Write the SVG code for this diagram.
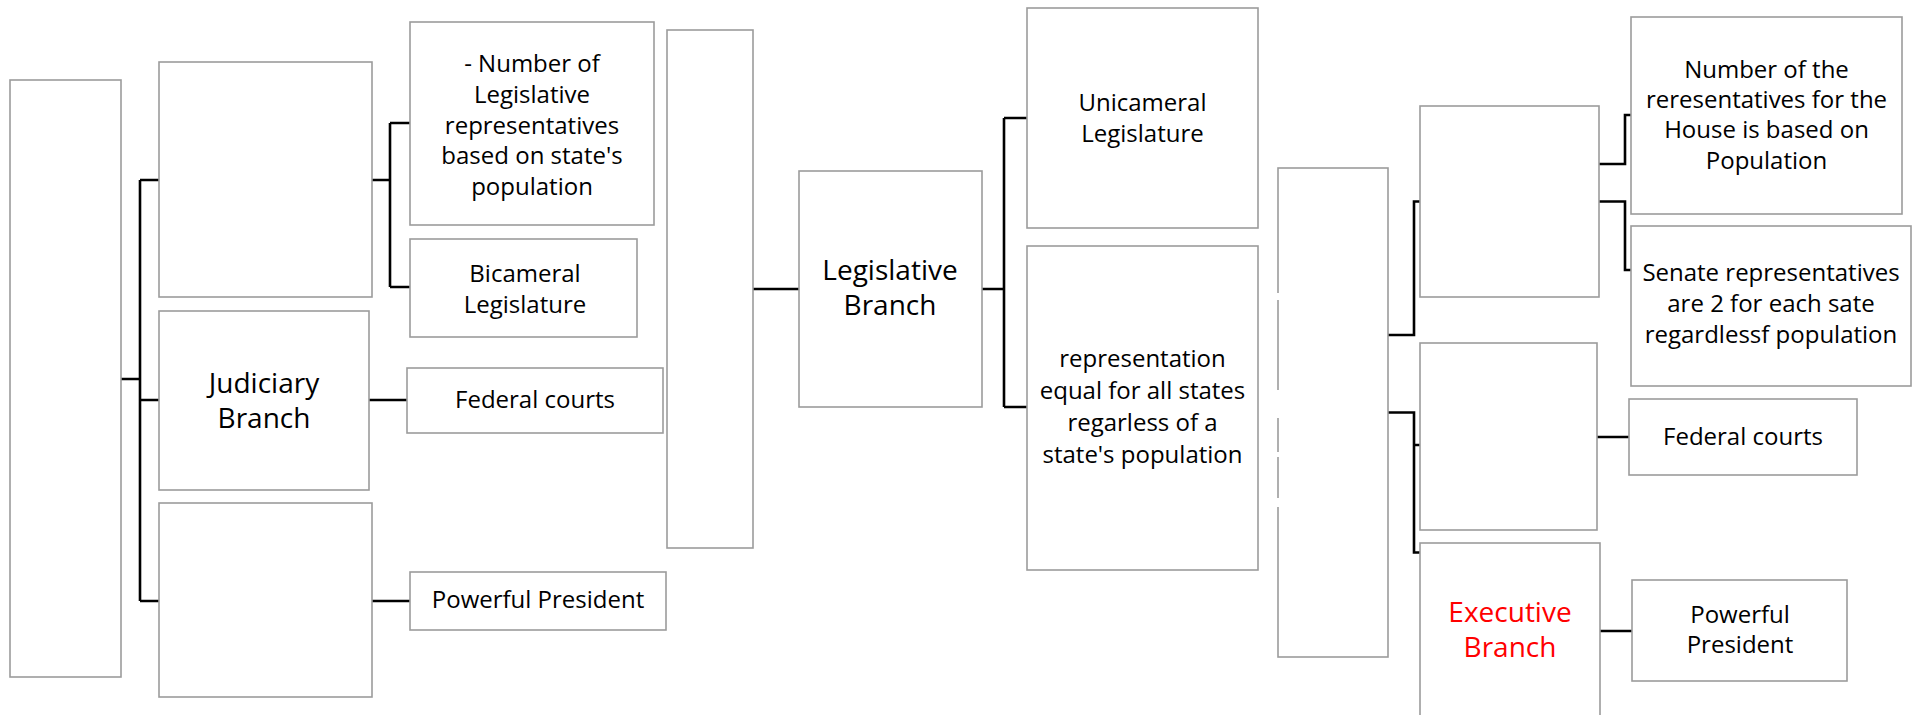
<svg xmlns="http://www.w3.org/2000/svg" width="1919" height="715" viewBox="0 0 1919 715">
<style>
.box{fill:#ffffff;stroke:#9c9c9c;stroke-width:1.6}
.t{font-family:"Open Sans","Noto Sans","Liberation Sans",sans-serif;font-size:24px;fill:#000;text-anchor:middle}
.b{font-size:28px}
.red{fill:#ff0000}
.c{fill:none;stroke:#000;stroke-width:2.6;stroke-linejoin:miter;stroke-linecap:butt}
.gap{fill:#ffffff;stroke:none}
</style>
<rect x="0" y="0" width="1919" height="715" fill="#ffffff"/>
<g id="connectors">
<path class="c" d="M121,379 H140 M140,180 V601 M140,180 H159 M140,400 H159 M140,601 H159"/>
<path class="c" d="M372,180 H390 M390,123 V287 M390,123 H410 M390,287 H410"/>
<path class="c" d="M369,400 H407 M372,601 H410"/>
<path class="c" d="M753,289 H799 M982,289 H1004 M1004,118 V407 M1004,118 H1027 M1004,407 H1027"/>
<path class="c" d="M1388,335 H1414 V201.5 H1420"/>
<path class="c" d="M1388,412.5 H1414 V552.5 H1420 M1414,445 H1420"/>
<path class="c" d="M1599,164 H1625 V115 H1631"/>
<path class="c" d="M1599,201.5 H1625 V270 H1631"/>
<path class="c" d="M1597,437 H1629 M1600,631 H1632"/>
</g>
<g id="root-left"><rect class="box" x="10" y="80" width="111" height="597"/></g>
<g id="empty-top-left"><rect class="box" x="159" y="62" width="213" height="235"/></g>
<g id="judiciary-left"><rect class="box" x="159" y="311" width="210" height="179"/>
<text class="t b" x="264" y="393">Judiciary</text><text class="t b" x="264" y="428">Branch</text></g>
<g id="empty-bottom-left"><rect class="box" x="159" y="503" width="213" height="194"/></g>
<g id="number-legislative"><rect class="box" x="410" y="22" width="244" height="203"/>
<text class="t" x="532" y="72">- Number of</text>
<text class="t" x="532" y="103">Legislative</text>
<text class="t" x="532" y="133.5">representatives</text>
<text class="t" x="532" y="164">based on state's</text>
<text class="t" x="532" y="194.5">population</text></g>
<g id="bicameral"><rect class="box" x="410" y="239" width="227" height="98"/>
<text class="t" x="525" y="282">Bicameral</text><text class="t" x="525" y="313">Legislature</text></g>
<g id="federal-courts-left"><rect class="box" x="407" y="368" width="256" height="65"/>
<text class="t" x="535" y="408">Federal courts</text></g>
<g id="powerful-president-left"><rect class="box" x="410" y="572" width="256" height="58"/>
<text class="t" x="538" y="608">Powerful President</text></g>
<g id="middle-tall"><rect class="box" x="667" y="30" width="86" height="518"/></g>
<g id="legislative-branch"><rect class="box" x="799" y="171" width="183" height="236"/>
<text class="t b" x="890" y="280">Legislative</text><text class="t b" x="890" y="315">Branch</text></g>
<g id="unicameral"><rect class="box" x="1027" y="8" width="231" height="220"/>
<text class="t" x="1142.5" y="111" font-size="25">Unicameral</text><text class="t" x="1142.5" y="141.5" font-size="25">Legislature</text></g>
<g id="representation-equal"><rect class="box" x="1027" y="246" width="231" height="324"/>
<text class="t" x="1142.5" y="366.5" font-size="25.5">representation</text>
<text class="t" x="1142.5" y="398.5" font-size="25.5">equal for all states</text>
<text class="t" x="1142.5" y="430.5" font-size="25.5">regarless of a</text>
<text class="t" x="1142.5" y="462.5" font-size="25.5">state's population</text></g>
<g id="root-right"><rect class="box" x="1278" y="168" width="110" height="489"/>
<rect class="gap" x="1275" y="293" width="6" height="7"/>
<rect class="gap" x="1275" y="390" width="6" height="28"/>
<rect class="gap" x="1275" y="452" width="6" height="5"/>
<rect class="gap" x="1275" y="498" width="6" height="9"/></g>
<g id="empty-top-right"><rect class="box" x="1420" y="106" width="179" height="191"/></g>
<g id="empty-mid-right"><rect class="box" x="1420" y="343" width="177" height="187"/></g>
<g id="executive-branch"><rect class="box" x="1420" y="543" width="180" height="190"/>
<text class="t b red" x="1510" y="622">Executive</text><text class="t b red" x="1510" y="657">Branch</text></g>
<g id="house-population"><rect class="box" x="1631" y="17" width="271" height="197"/>
<text class="t" x="1766.5" y="78">Number of the</text>
<text class="t" x="1766.5" y="108">reresentatives for the</text>
<text class="t" x="1766.5" y="138">House is based on</text>
<text class="t" x="1766.5" y="168.5">Population</text></g>
<g id="senate"><rect class="box" x="1631" y="226" width="280" height="160"/>
<text class="t" x="1771" y="281" font-size="25">Senate representatives</text>
<text class="t" x="1771" y="312" font-size="25">are 2 for each sate</text>
<text class="t" x="1771" y="343" font-size="25">regardlessf population</text></g>
<g id="federal-courts-right"><rect class="box" x="1629" y="399" width="228" height="76"/>
<text class="t" x="1743" y="445">Federal courts</text></g>
<g id="powerful-president-right"><rect class="box" x="1632" y="580" width="215" height="101"/>
<text class="t" x="1740" y="623">Powerful</text><text class="t" x="1740" y="653">President</text></g>
</svg>
